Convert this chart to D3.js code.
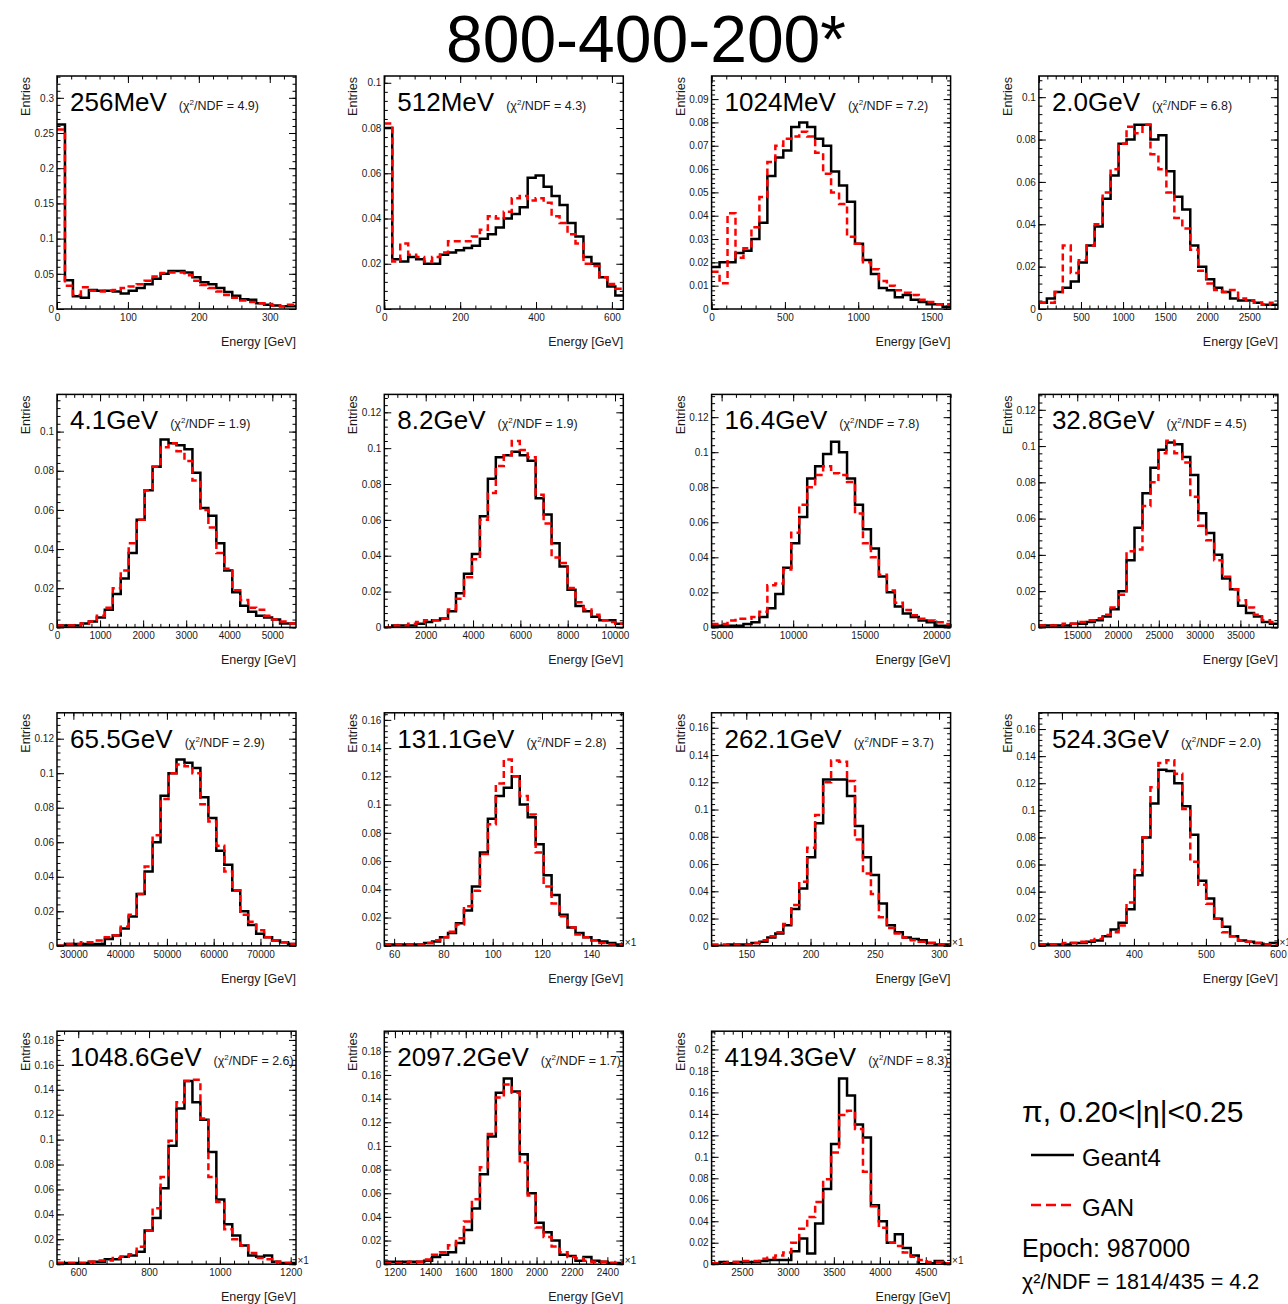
<!DOCTYPE html>
<html>
<head>
<meta charset="utf-8">
<script src="https://cdn.jsdelivr.net/npm/d3@7"></script>
<style>
    body { margin: 0; background: #fff; }
    svg text { font-family: 'Liberation Sans', Arial, Helvetica, sans-serif; }
</style>
</head>
<body>
<div id="chart"></div>
<script>
'use strict';

// beam energy of each panel and its chi2/NDF
const energyLabels = ["256MeV", "512MeV", "1024MeV", "2.0GeV", "4.1GeV", "8.2GeV", "16.4GeV", "32.8GeV",
                      "65.5GeV", "131.1GeV", "262.1GeV", "524.3GeV", "1048.6GeV", "2097.2GeV", "4194.3GeV"];
const chi2 = [4.9, 4.3, 7.2, 6.8, 1.9, 1.9, 7.8, 4.5, 2.9, 2.8, 3.7, 2.0, 2.6, 1.7, 8.3];

// histogram x range (GeV), y top, major tick steps
const xRange = [[0, 337], [0, 630], [0, 1630], [0, 2840], [0, 5550], [250, 10350], [4300, 21000], [10300, 39600],
                [26500, 77600], [56, 153], [123, 309], [268, 600], [540, 1215], [1140, 2490], [2170, 4770]];
const yTop = [0.331, 0.103, 0.0999, 0.110, 0.119, 0.13, 0.133, 0.1285, 0.135, 0.165, 0.171, 0.172, 0.187, 0.197, 0.217];
const xStep = [100, 200, 500, 500, 1000, 2000, 5000, 5000, 10000, 20, 50, 100, 200, 200, 500];
const yStep = [0.05, 0.02, 0.01, 0.02, 0.02, 0.02, 0.02, 0.02, 0.02, 0.02, 0.02, 0.02, 0.02, 0.02, 0.02];
const scaledAxes = [9, 10, 11, 12, 13, 14];

// normalised entries, 30 bins each
const geant4 = [
    [0.262,0.041,0.018,0.016,0.027,0.026,0.026,0.025,0.022,0.026,0.030,0.035,0.043,0.050,0.054,0.054,0.052,0.045,0.038,0.035,0.030,0.024,0.019,0.014,0.013,0.008,0.006,0.005,0.004,0.004],
    [0.080,0.022,0.021,0.023,0.022,0.020,0.020,0.024,0.025,0.026,0.027,0.028,0.031,0.033,0.036,0.040,0.042,0.045,0.058,0.059,0.054,0.050,0.046,0.038,0.032,0.023,0.020,0.014,0.010,0.006],
    [0.018,0.020,0.020,0.024,0.025,0.030,0.037,0.057,0.065,0.068,0.078,0.080,0.078,0.073,0.070,0.059,0.053,0.046,0.028,0.021,0.015,0.009,0.008,0.005,0.006,0.004,0.003,0.002,0.002,0.001],
    [0.003,0.005,0.008,0.010,0.013,0.022,0.030,0.039,0.052,0.063,0.078,0.080,0.087,0.087,0.080,0.082,0.065,0.053,0.047,0.030,0.020,0.014,0.010,0.008,0.005,0.004,0.004,0.003,0.002,0.002],
    [0.001,0.001,0.001,0.002,0.003,0.005,0.009,0.017,0.025,0.038,0.055,0.070,0.082,0.096,0.094,0.093,0.091,0.079,0.061,0.057,0.043,0.029,0.018,0.011,0.008,0.006,0.005,0.004,0.002,0.002],
    [0.000,0.001,0.001,0.001,0.002,0.003,0.004,0.005,0.009,0.019,0.030,0.041,0.062,0.083,0.095,0.096,0.098,0.096,0.093,0.072,0.063,0.047,0.034,0.021,0.012,0.009,0.006,0.004,0.004,0.002],
    [0.001,0.001,0.001,0.001,0.002,0.003,0.006,0.011,0.019,0.034,0.048,0.063,0.085,0.092,0.099,0.106,0.100,0.085,0.070,0.056,0.045,0.029,0.020,0.012,0.008,0.006,0.004,0.003,0.001,0.001],
    [0.001,0.001,0.001,0.001,0.002,0.002,0.003,0.004,0.006,0.010,0.020,0.037,0.055,0.074,0.088,0.098,0.102,0.101,0.094,0.084,0.063,0.052,0.040,0.027,0.021,0.012,0.008,0.006,0.003,0.002],
    [0.000,0.001,0.001,0.001,0.001,0.001,0.004,0.006,0.010,0.017,0.030,0.043,0.060,0.087,0.100,0.108,0.106,0.103,0.086,0.074,0.055,0.047,0.032,0.020,0.012,0.007,0.005,0.003,0.002,0.001],
    [0.001,0.001,0.001,0.001,0.001,0.002,0.003,0.006,0.009,0.016,0.025,0.042,0.066,0.090,0.106,0.112,0.120,0.100,0.091,0.072,0.050,0.036,0.022,0.013,0.009,0.006,0.004,0.003,0.002,0.001],
    [0.000,0.000,0.001,0.001,0.001,0.002,0.003,0.006,0.009,0.015,0.027,0.042,0.065,0.090,0.122,0.122,0.122,0.110,0.088,0.065,0.052,0.031,0.015,0.010,0.006,0.005,0.004,0.002,0.001,0.001],
    [0.001,0.001,0.001,0.001,0.002,0.002,0.003,0.004,0.007,0.012,0.017,0.027,0.052,0.080,0.105,0.130,0.129,0.120,0.103,0.082,0.048,0.035,0.020,0.014,0.007,0.004,0.003,0.002,0.001,0.002],
    [0.001,0.001,0.001,0.001,0.002,0.002,0.004,0.004,0.006,0.007,0.010,0.027,0.037,0.061,0.095,0.125,0.147,0.130,0.116,0.090,0.052,0.032,0.023,0.015,0.007,0.006,0.007,0.002,0.001,0.001],
    [0.002,0.002,0.002,0.002,0.002,0.003,0.006,0.008,0.010,0.018,0.029,0.047,0.076,0.108,0.145,0.157,0.146,0.093,0.060,0.035,0.027,0.020,0.008,0.007,0.003,0.006,0.003,0.002,0.001,0.001],
    [0.001,0.002,0.001,0.002,0.002,0.002,0.003,0.004,0.004,0.004,0.012,0.024,0.010,0.038,0.070,0.112,0.173,0.157,0.130,0.118,0.055,0.040,0.020,0.028,0.015,0.008,0.000,0.001,0.003,0.001]
];

const gan = [
    [0.255,0.033,0.020,0.031,0.026,0.025,0.026,0.027,0.030,0.032,0.035,0.040,0.046,0.051,0.052,0.052,0.048,0.040,0.034,0.030,0.025,0.020,0.016,0.012,0.010,0.008,0.007,0.005,0.004,0.006],
    [0.082,0.021,0.029,0.024,0.023,0.021,0.023,0.025,0.030,0.030,0.030,0.032,0.035,0.041,0.040,0.043,0.049,0.050,0.048,0.049,0.047,0.041,0.038,0.033,0.029,0.020,0.019,0.014,0.011,0.009],
    [0.016,0.011,0.041,0.022,0.026,0.035,0.048,0.063,0.070,0.073,0.074,0.076,0.074,0.067,0.058,0.050,0.045,0.031,0.028,0.020,0.017,0.012,0.010,0.008,0.007,0.006,0.004,0.003,0.002,0.002],
    [0.003,0.003,0.008,0.030,0.017,0.023,0.030,0.040,0.055,0.066,0.078,0.086,0.083,0.087,0.073,0.066,0.055,0.043,0.038,0.028,0.018,0.012,0.009,0.008,0.009,0.005,0.004,0.003,0.002,0.003],
    [0.001,0.001,0.001,0.002,0.003,0.006,0.010,0.020,0.029,0.043,0.055,0.070,0.082,0.092,0.094,0.090,0.085,0.075,0.060,0.051,0.038,0.030,0.019,0.014,0.010,0.009,0.006,0.004,0.003,0.002],
    [0.000,0.001,0.001,0.002,0.003,0.004,0.004,0.005,0.010,0.016,0.028,0.038,0.060,0.075,0.090,0.096,0.104,0.099,0.095,0.074,0.058,0.039,0.036,0.022,0.014,0.010,0.007,0.004,0.003,0.002],
    [0.002,0.002,0.004,0.005,0.005,0.006,0.009,0.024,0.025,0.033,0.054,0.070,0.080,0.087,0.092,0.088,0.087,0.083,0.065,0.048,0.040,0.030,0.021,0.014,0.010,0.007,0.005,0.004,0.003,0.002],
    [0.001,0.001,0.001,0.002,0.002,0.003,0.004,0.005,0.007,0.011,0.018,0.042,0.043,0.067,0.080,0.096,0.103,0.096,0.091,0.072,0.056,0.048,0.037,0.028,0.021,0.015,0.011,0.007,0.004,0.003],
    [0.000,0.001,0.001,0.002,0.002,0.003,0.005,0.006,0.011,0.018,0.030,0.046,0.064,0.085,0.100,0.105,0.104,0.100,0.082,0.072,0.058,0.043,0.032,0.018,0.014,0.009,0.005,0.003,0.002,0.001],
    [0.001,0.001,0.001,0.001,0.001,0.002,0.004,0.006,0.010,0.015,0.028,0.039,0.065,0.086,0.115,0.132,0.120,0.106,0.093,0.066,0.042,0.030,0.021,0.013,0.008,0.006,0.004,0.002,0.001,0.001],
    [0.001,0.001,0.001,0.001,0.001,0.002,0.004,0.007,0.010,0.016,0.030,0.047,0.072,0.096,0.120,0.136,0.135,0.121,0.078,0.053,0.038,0.021,0.013,0.009,0.006,0.004,0.003,0.002,0.001,0.001],
    [0.001,0.001,0.001,0.002,0.002,0.003,0.004,0.005,0.008,0.010,0.015,0.032,0.056,0.080,0.117,0.135,0.137,0.127,0.101,0.062,0.045,0.031,0.020,0.010,0.007,0.004,0.003,0.002,0.001,0.001],
    [0.001,0.001,0.001,0.001,0.002,0.003,0.003,0.005,0.006,0.008,0.014,0.027,0.045,0.070,0.099,0.130,0.147,0.148,0.117,0.070,0.050,0.028,0.020,0.015,0.009,0.005,0.004,0.002,0.001,0.001],
    [0.001,0.001,0.001,0.002,0.002,0.004,0.008,0.010,0.016,0.022,0.036,0.055,0.082,0.110,0.141,0.152,0.145,0.086,0.058,0.031,0.023,0.015,0.010,0.006,0.005,0.003,0.002,0.002,0.001,0.001],
    [0.001,0.001,0.002,0.002,0.003,0.003,0.005,0.006,0.008,0.011,0.020,0.033,0.044,0.058,0.079,0.104,0.139,0.143,0.126,0.086,0.054,0.034,0.020,0.017,0.011,0.007,0.004,0.002,0.002,0.001]
];

const pageTitle = "800-400-200*";
const legendHeader = "π, 0.20<|η|<0.25";
const seriesNames = ["Geant4", "GAN"];
const epochText = "Epoch: 987000";
const totalChi2 = "χ²/NDF = 1814/435 = 4.2";


class EnergyPanel {

    constructor (svg, idx)
    {
        this.idx = idx;
        this.width = 239;
        this.height = 233;
        this.left = 57 + (idx % 4) * 327.3;
        this.top = 76 + Math.floor(idx / 4) * 318.4;
        this.fontSize = 12.5;
        this.g = svg.append('g')
            .attr('transform', 'translate(' + this.left + ',' + this.top + ')');
    }

    prepareScales ()
    {
        this.xScale = d3.scaleLinear().domain(xRange[this.idx]).range([0, this.width]);
        this.yScale = d3.scaleLinear().domain([0, yTop[this.idx]]).range([this.height, 0]);
    }

    tickValues (domain, step)
    {
        let lo = Math.ceil(domain[0] / step - 1e-6),
            hi = Math.floor(domain[1] / step + 1e-6);
        return d3.range(lo, hi + 1).map(k => +(k * step).toPrecision(10));
    }

    addAxis (axisFn, scale, values, size, shift, fmt, pad)
    {
        let axis = axisFn(scale)
            .tickValues(values)
            .tickSize(-size)
            .tickPadding(pad || 0)
            .tickFormat(fmt || (() => ''));
        let g = this.g.append('g')
            .attr('transform', 'translate(' + shift[0] + ',' + shift[1] + ')')
            .attr('font-size', this.fontSize)
            .call(axis);
        g.select('.domain').remove();
        g.selectAll('text').attr('fill', '#1a1a1a');
        return g;
    }

    createAxes ()
    {
        let w = this.width, h = this.height;
        let xd = this.xScale.domain(), yd = this.yScale.domain();
        let xMajor = this.tickValues(xd, xStep[this.idx]),
            xMinor = this.tickValues(xd, xStep[this.idx] / 5),
            yMajor = this.tickValues(yd, yStep[this.idx]),
            yMinor = this.tickValues(yd, yStep[this.idx] / 5);

        let xFmt = d => String(d);
        let yFmt = d => String(+d.toFixed(4));

        this.addAxis(d3.axisBottom, this.xScale, xMajor, 7, [0, h], xFmt, 5);
        this.addAxis(d3.axisBottom, this.xScale, xMinor, 3.5, [0, h]);
        this.addAxis(d3.axisTop, this.xScale, xMajor, 7, [0, 0]);
        this.addAxis(d3.axisTop, this.xScale, xMinor, 3.5, [0, 0]);

        this.addAxis(d3.axisLeft, this.yScale, yMajor, 7, [0, 0], yFmt, 3);
        this.addAxis(d3.axisLeft, this.yScale, yMinor, 3.5, [0, 0]);
        this.addAxis(d3.axisRight, this.yScale, yMajor, 7, [w, 0]);
        this.addAxis(d3.axisRight, this.yScale, yMinor, 3.5, [w, 0]);
    }

    appendClip ()
    {
        this.g.append('clipPath')
            .attr('id', 'clip' + this.idx)
            .append('rect')
            .attr('width', this.width)
            .attr('height', this.height);
    }

    drawHist (values, color, dash)
    {
        let d0 = this.xScale.domain()[0],
            bw = (this.xScale.domain()[1] - d0) / values.length;
        let pts = [];
        values.forEach((v, k) => {
            pts.push([d0 + k * bw, v]);
            pts.push([d0 + (k + 1) * bw, v]);
        });
        let line = d3.line()
            .x(d => this.xScale(d[0]))
            .y(d => this.yScale(d[1]));

        this.g.append('path')
            .attr('d', line(pts))
            .attr('clip-path', 'url(#clip' + this.idx + ')')
            .attr('fill', 'none')
            .attr('stroke', color)
            .attr('stroke-width', 2.5)
            .attr('stroke-dasharray', dash);
    }

    appendFrame ()
    {
        this.g.append('rect')
            .attr('width', this.width)
            .attr('height', this.height)
            .attr('fill', 'none')
            .attr('stroke', '#000')
            .attr('stroke-width', 1.5);
    }

    appendTexts ()
    {
        let title = this.g.append('text')
            .attr('x', 13)
            .attr('y', 35)
            .attr('font-size', 26)
            .text(energyLabels[this.idx]);
        let tx = 13 + title.node().getComputedTextLength() + 12;

        let chi = this.g.append('text')
            .attr('x', tx)
            .attr('y', 34)
            .attr('font-size', 12.5)
            .attr('fill', '#1a1a1a');
        chi.append('tspan').text('(χ');
        chi.append('tspan').attr('font-size', 8).attr('dy', -5).text('2');
        chi.append('tspan').attr('dy', 5).text('/NDF = ' + chi2[this.idx].toFixed(1) + ')');

        this.g.append('text')
            .attr('transform', 'translate(-27,1) rotate(-90)')
            .attr('text-anchor', 'end')
            .attr('font-size', this.fontSize)
            .attr('fill', '#1a1a1a')
            .text('Entries');

        this.g.append('text')
            .attr('x', this.width)
            .attr('y', this.height + 37)
            .attr('text-anchor', 'end')
            .attr('font-size', this.fontSize)
            .attr('fill', '#1a1a1a')
            .text('Energy [GeV]');

        if (scaledAxes.indexOf(this.idx) >= 0) {
            this.g.append('text')
                .attr('x', this.width + 1.5)
                .attr('y', this.height)
                .attr('font-size', 10)
                .attr('fill', '#1a1a1a')
                .text('×1');
        }
    }

    build ()
    {
        this.prepareScales();
        this.appendClip();
        this.createAxes();
        this.drawHist(geant4[this.idx], '#000', null);
        this.drawHist(gan[this.idx], '#ff0000', '7,4');
        this.appendFrame();
        this.appendTexts();
        return this;
    }
}


function appendLegend (svg)
{
    svg.append('text')
        .attr('x', 1022).attr('y', 1122)
        .attr('font-size', 30)
        .text(legendHeader);

    let rows = [{y: 1155, color: '#000', dash: null}, {y: 1205, color: '#ff0000', dash: '10,5'}];
    rows.forEach((r, i) => {
        svg.append('line')
            .attr('x1', 1031).attr('x2', 1074)
            .attr('y1', r.y).attr('y2', r.y)
            .attr('stroke', r.color)
            .attr('stroke-width', 2.6)
            .attr('stroke-dasharray', r.dash);
        svg.append('text')
            .attr('x', 1082).attr('y', r.y + 11)
            .attr('font-size', 24)
            .text(seriesNames[i]);
    });

    svg.append('text')
        .attr('x', 1022).attr('y', 1257)
        .attr('font-size', 25)
        .text(epochText);

    svg.append('text')
        .attr('x', 1022).attr('y', 1289)
        .attr('font-size', 21.5)
        .text(totalChi2);
}


let svg = d3.select('#chart').append('svg')
    .attr('width', 1288)
    .attr('height', 1304);

svg.append('rect').attr('width', 1288).attr('height', 1304).attr('fill', '#fff');

svg.append('text')
    .attr('x', 646)
    .attr('y', 62)
    .attr('text-anchor', 'middle')
    .attr('font-size', 66)
    .text(pageTitle);

energyLabels.forEach((d, i) => new EnergyPanel(svg, i).build());
appendLegend(svg);
</script>
</body>
</html>
